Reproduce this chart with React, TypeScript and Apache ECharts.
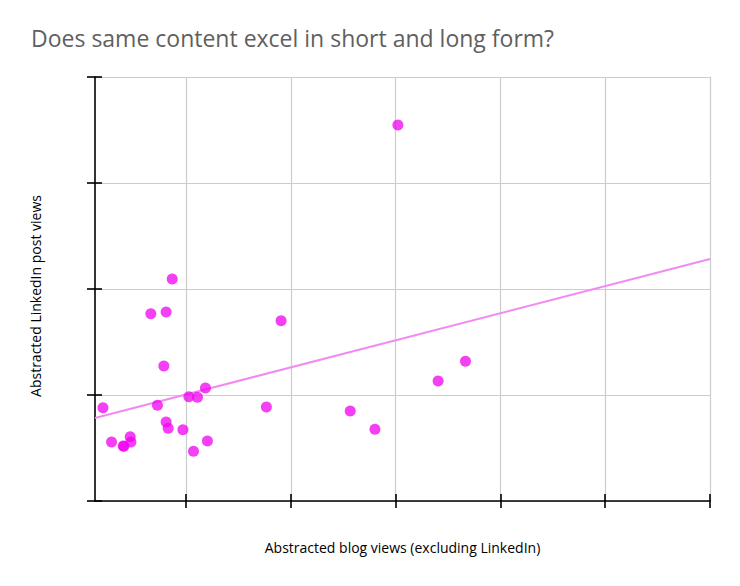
import { useEffect, useRef } from "react";
import * as echarts from "echarts";

// blog views (x) vs LinkedIn post views (y), abstracted units
const blogViews = [
  2.021, -0.133, -0.337, -0.191, 0.906, -0.213, 2.666, 2.405, 0.184, 0.026,
  0.108, -0.274, -0.794, 0.766, 1.566, -0.191, -0.172, -0.031, 1.802, -0.534,
  -0.712, -0.527, -0.594, -0.601, 0.203, 0.07
];
const linkedinViews = [
  3.547, 2.094, 1.767, 1.783, 1.701, 1.274, 1.318, 1.132, 1.066, 0.984,
  0.978, 0.903, 0.88, 0.887, 0.849, 0.745, 0.686, 0.673, 0.676, 0.607,
  0.557, 0.557, 0.516, 0.519, 0.566, 0.469
];
const trendX = [-0.87, 5];
const trendY = [0.783, 2.283];
const xTicks = [0, 1, 2, 3, 4, 5];

const FONT = "Open Sans";

export default function App() {
  const ref = useRef<HTMLDivElement | null>(null);

  useEffect(() => {
    if (!ref.current) {
      return;
    }
    const instance = echarts.init(ref.current, null, { renderer: "svg" });
    const points = blogViews.map((x, i) => [x, linkedinViews[i]]);
    const trend = trendX.map((x, i) => [x, trendY[i]]);

    const gridBox = { left: 95, right: 30, top: 77, bottom: 85 };
    const xBase = { type: "value", min: -0.87, max: 5, axisLabel: { show: false } };
    const yBase = { type: "value", min: 0, max: 4, interval: 1, axisLabel: { show: false } };
    const black = { color: "#000", width: 1.6 };

    instance.setOption({
      animation: false,
      title: {
        text: "Does same content excel in short and long form?",
        left: 26,
        top: 21,
        textStyle: { fontFamily: FONT, fontSize: 23, fontWeight: "normal", color: "#5f5f5f" }
      },
      grid: [gridBox, gridBox],
      xAxis: [
        {
          ...xBase,
          name: "Abstracted blog views (excluding LinkedIn)",
          nameLocation: "middle",
          nameGap: 39,
          nameTextStyle: { fontFamily: FONT, fontSize: 14, color: "#000" },
          axisLine: { onZero: false, lineStyle: black },
          axisTick: { show: true, length: 7, customValues: xTicks, lineStyle: black },
          splitLine: { show: true, lineStyle: { color: "#cccccc", width: 1.2 } }
        },
        {
          ...xBase,
          gridIndex: 1,
          axisLine: { show: false, onZero: false },
          axisTick: { show: true, inside: true, length: 7, customValues: xTicks, lineStyle: black },
          splitLine: { show: false }
        }
      ],
      yAxis: [
        {
          ...yBase,
          name: "Abstracted LinkedIn post views",
          nameLocation: "middle",
          nameGap: 53,
          nameTextStyle: { fontFamily: FONT, fontSize: 14, color: "#000", padding: [0, 14, 0, 0] },
          axisLine: { onZero: false, lineStyle: black },
          axisTick: { show: true, length: 8, lineStyle: black },
          splitLine: { show: true, lineStyle: { color: "#cccccc", width: 1.2 } }
        },
        {
          ...yBase,
          gridIndex: 1,
          axisLine: { show: false, onZero: false },
          axisTick: { show: true, inside: true, length: 7, lineStyle: black },
          splitLine: { show: false }
        }
      ],
      series: [
        {
          type: "line",
          data: trend,
          symbol: "none",
          lineStyle: { color: "#f28af2", width: 2 },
          z: 2
        },
        {
          type: "scatter",
          data: points,
          symbolSize: 11,
          itemStyle: { color: "#f000f0", opacity: 0.75 },
          z: 3
        }
      ]
    });

    return () => {
      instance.dispose();
    };
  }, []);

  return (
    <div
      ref={ref}
      style={{ position: "fixed", left: 0, top: 0, width: 740, height: 586, background: "#fff" }}
    />
  );
}
